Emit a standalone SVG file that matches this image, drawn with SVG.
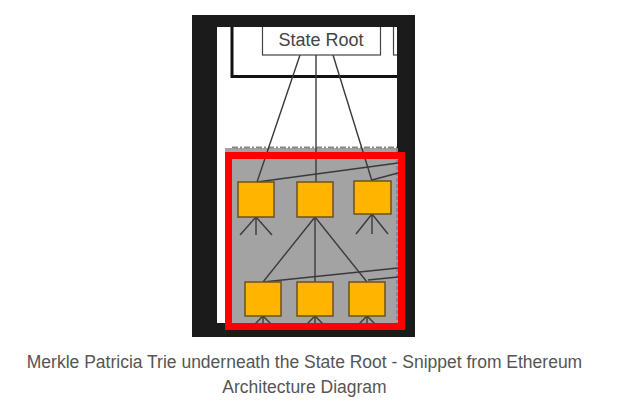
<svg xmlns="http://www.w3.org/2000/svg" width="619" height="406" viewBox="0 0 619 406">
<style>
.ln{stroke:#3a3a3a;stroke-width:1.4;fill:none}
.nd{fill:#FFB400;stroke:#6b5220;stroke-width:1.5}
.cap{font-family:"Liberation Sans",Arial,sans-serif;font-size:17.5px;fill:#555;text-anchor:middle}
</style>
<rect width="619" height="406" fill="#fff"/>
<g id="frame">
<rect x="192" y="15" width="223" height="322" fill="#1b1b1b"/>
<rect x="217" y="27" width="180" height="296" fill="#fff"/>
<rect x="225" y="148" width="173" height="175" fill="#a3a3a3"/>
<line x1="232" y1="147.5" x2="397" y2="147.5" stroke="#8a8a8a" stroke-width="2" stroke-dasharray="6 2 2 2"/>
<line x1="397" y1="148" x2="397" y2="323" stroke="#7a7a7a" stroke-width="1.2" stroke-dasharray="4 2"/>
<path d="M232 27 V76.5 H397" fill="none" stroke="#111" stroke-width="3"/>
</g>
<g id="connectors">
<line class="ln" x1="300" y1="55" x2="257" y2="182"/>
<line class="ln" x1="316" y1="55" x2="316" y2="182"/>
<line class="ln" x1="333" y1="55" x2="372" y2="181"/>
<line class="ln" x1="257" y1="182" x2="398" y2="163"/>
<line class="ln" x1="372" y1="180" x2="398" y2="173"/>
<line class="ln" x1="256" y1="217" x2="240" y2="235"/>
<line class="ln" x1="256" y1="217" x2="256" y2="235"/>
<line class="ln" x1="256" y1="217" x2="272" y2="235"/>
<line class="ln" x1="372" y1="214" x2="356" y2="234"/>
<line class="ln" x1="372" y1="214" x2="372" y2="234"/>
<line class="ln" x1="372" y1="214" x2="388" y2="234"/>
<line class="ln" x1="315" y1="217" x2="263" y2="282"/>
<line class="ln" x1="315" y1="217" x2="315" y2="282"/>
<line class="ln" x1="315" y1="217" x2="367" y2="282"/>
<line class="ln" x1="263" y1="282" x2="398" y2="268"/>
<line class="ln" x1="368" y1="280" x2="398" y2="277"/>
<line class="ln" x1="263" y1="316" x2="254" y2="325"/>
<line class="ln" x1="263" y1="316" x2="263" y2="325"/>
<line class="ln" x1="263" y1="316" x2="272" y2="325"/>
<line class="ln" x1="315" y1="316" x2="306" y2="325"/>
<line class="ln" x1="315" y1="316" x2="315" y2="325"/>
<line class="ln" x1="315" y1="316" x2="324" y2="325"/>
<line class="ln" x1="367" y1="316" x2="358" y2="325"/>
<line class="ln" x1="367" y1="316" x2="367" y2="325"/>
<line class="ln" x1="367" y1="316" x2="376" y2="325"/>
</g>
<g id="state-root">
<rect x="262.5" y="20" width="118" height="35" fill="#fff" stroke="#444" stroke-width="1.2"/>
<text x="321" y="45.5" font-family="'Liberation Sans',Arial,sans-serif" font-size="18" fill="#444" text-anchor="middle">State Root</text>
</g>
<g id="side-box"><rect x="393.5" y="20" width="10" height="35" fill="#fff" stroke="#444" stroke-width="1.2"/></g>
<rect x="192" y="15" width="223" height="12" fill="#1b1b1b"/>
<rect x="397" y="15" width="18" height="133" fill="#1b1b1b"/>
<g id="n1"><rect class="nd" x="238" y="182" width="36" height="35"/></g>
<g id="n2"><rect class="nd" x="297" y="182" width="36" height="35"/></g>
<g id="n3"><rect class="nd" x="354" y="181" width="37" height="33"/></g>
<g id="n4"><rect class="nd" x="245" y="282" width="36" height="34"/></g>
<g id="n5"><rect class="nd" x="297" y="282" width="36" height="34"/></g>
<g id="n6"><rect class="nd" x="349" y="282" width="36" height="34"/></g>
<rect id="highlight" x="228.5" y="155.5" width="173" height="171" fill="none" stroke="#ff0000" stroke-width="7"/>
<text class="cap" x="304.5" y="368">Merkle Patricia Trie underneath the State Root - Snippet from Ethereum</text>
<text class="cap" x="304.5" y="393">Architecture Diagram</text>
</svg>
